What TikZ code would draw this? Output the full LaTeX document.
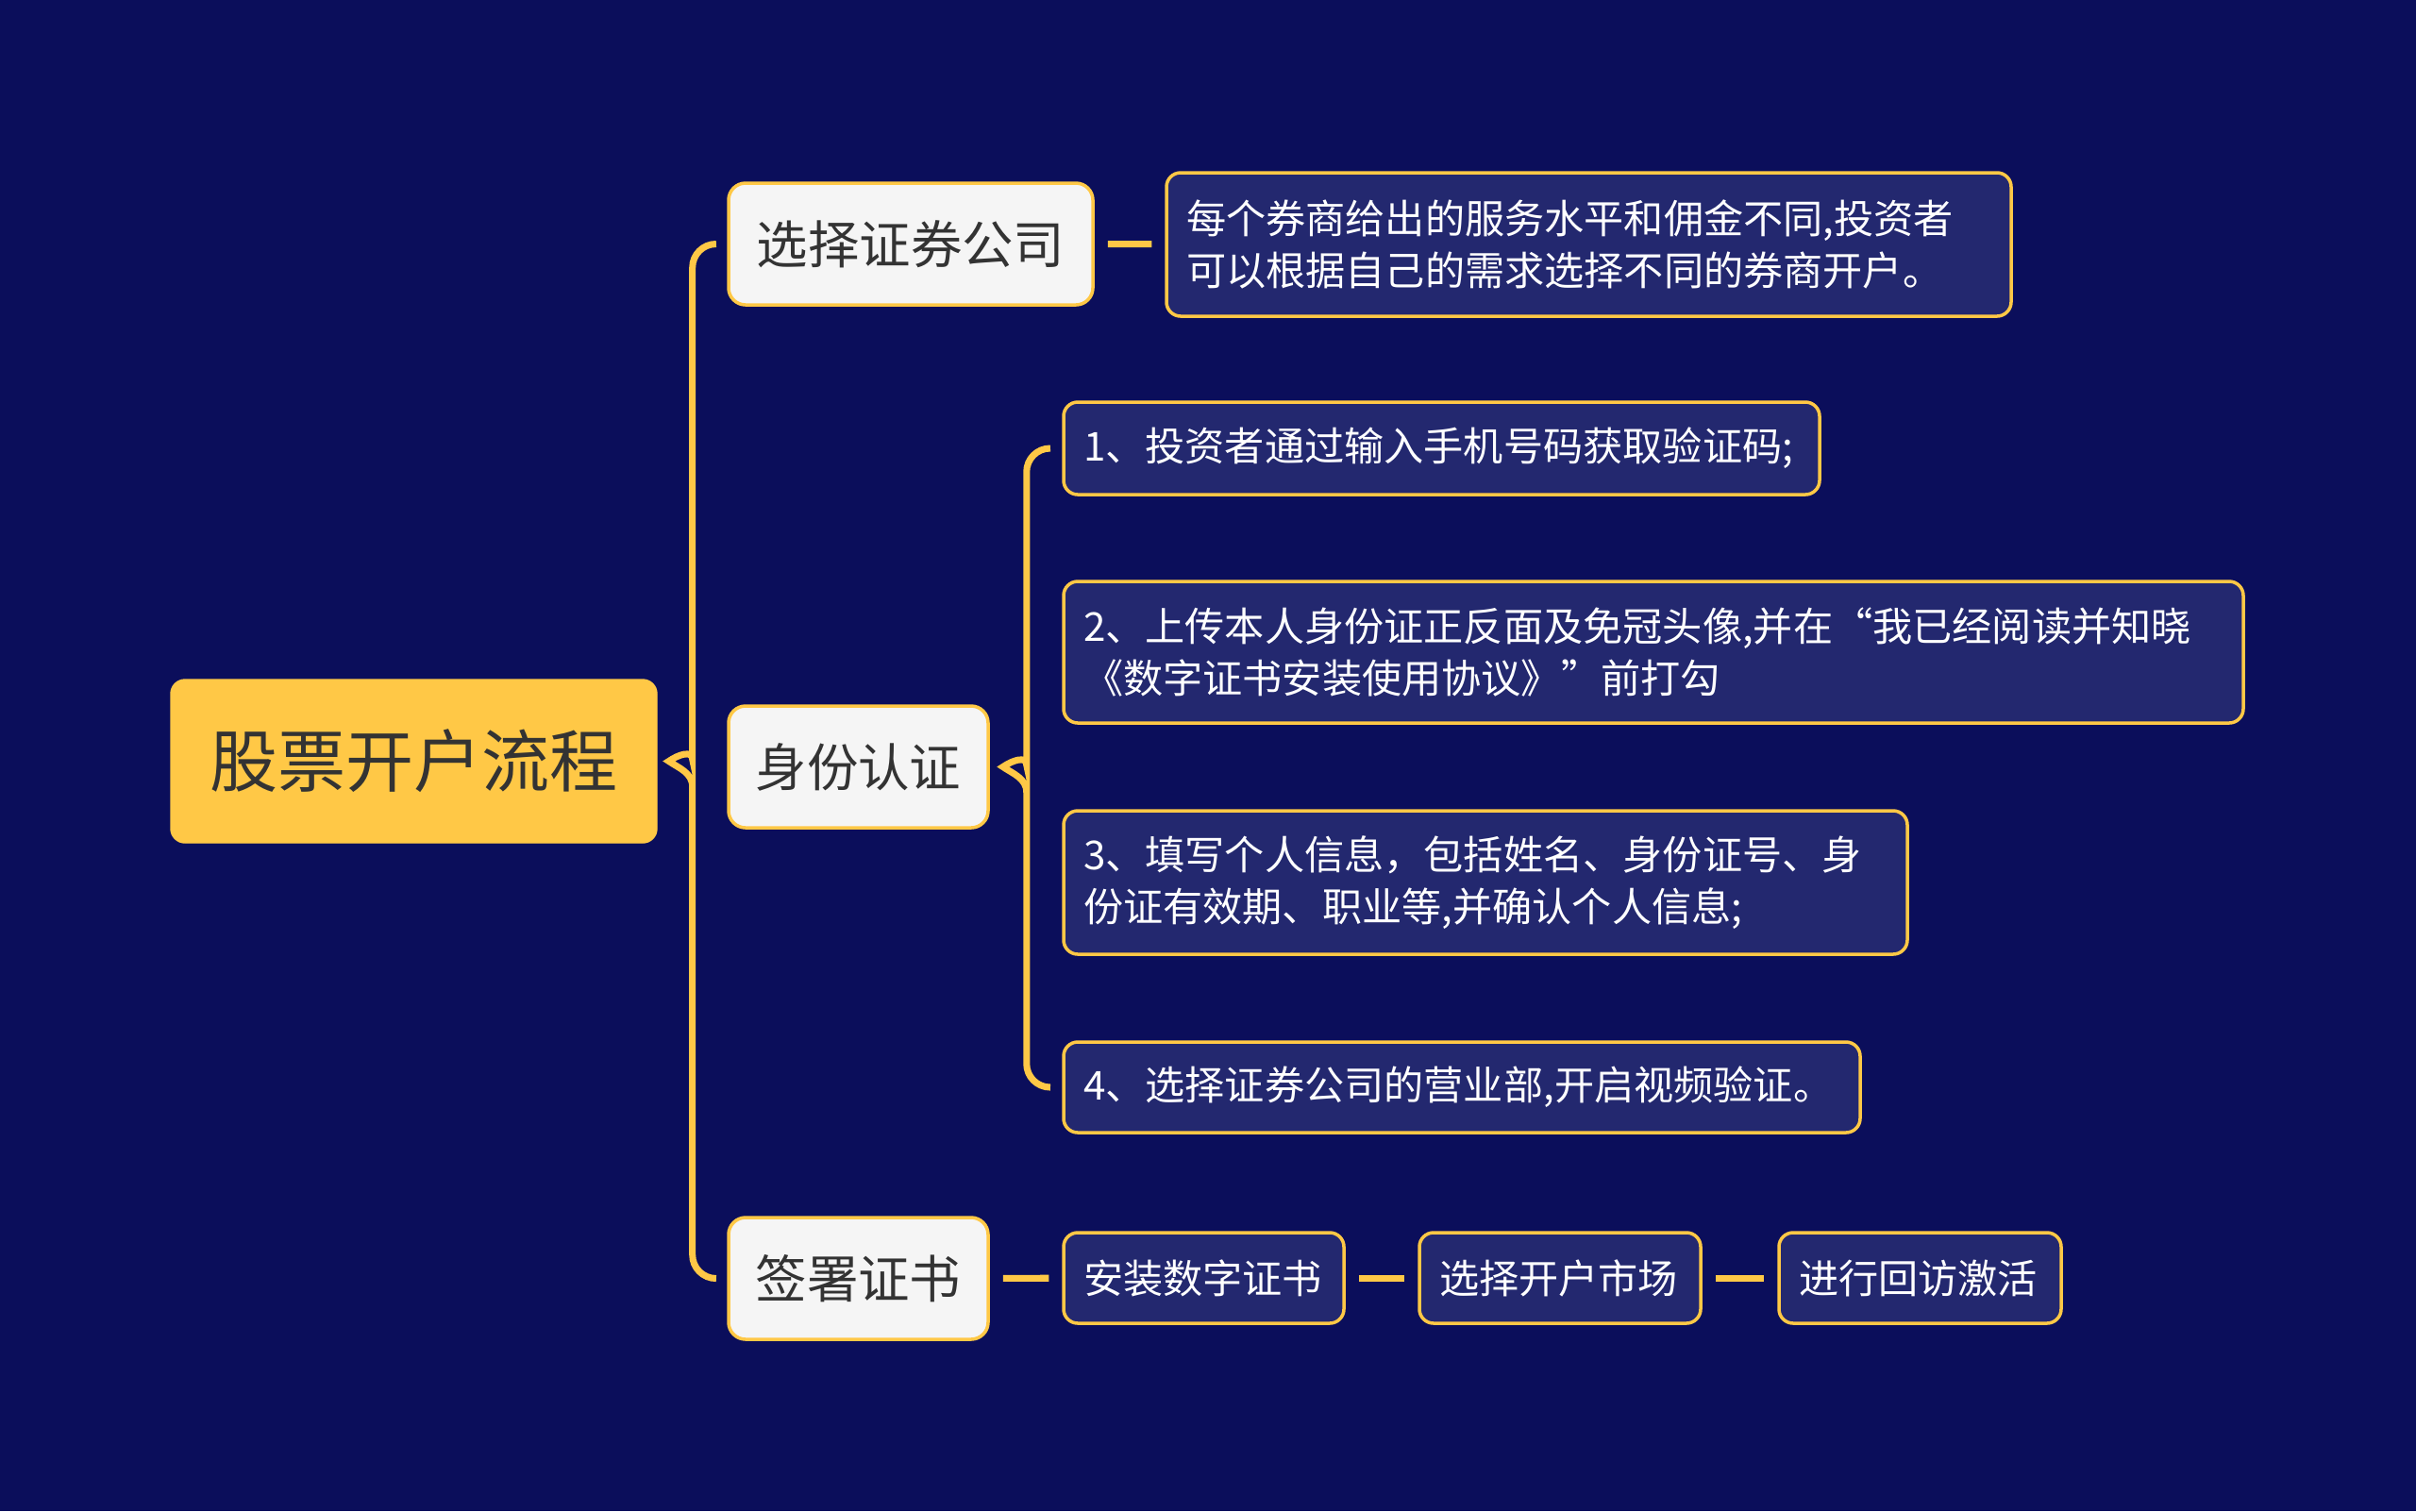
\documentclass[tikz,border=0pt]{standalone}
\usepackage{fontspec}
\setmainfont{Noto Sans CJK SC}
\usetikzlibrary{calc}
\definecolor{night}{HTML}{0B0E5B}
\definecolor{gold}{HTML}{FFC846}
\definecolor{deepBlue}{HTML}{23286F}
\definecolor{paper}{HTML}{F5F5F5}
\definecolor{ink}{HTML}{333333}

\begin{document}
\begin{tikzpicture}[x=1cm,y=-1cm,
  root/.style={fill=gold,draw=gold,rounded corners=0.15cm,text=ink,
    font=\fontsize{20.5}{24}\selectfont,minimum width=5.15cm,minimum height=1.73cm},
  topic/.style={fill=paper,draw=gold,line width=1pt,rounded corners=0.18cm,text=ink,
    font=\fontsize{15.5}{19}\selectfont,minimum height=1.29cm},
  leaf/.style={fill=deepBlue,draw=gold,line width=1pt,rounded corners=0.15cm,text=white,
    font=\fontsize{12}{15.8}\selectfont,inner xsep=0.21cm,align=left},
  link/.style={gold,line width=2pt},
  bar/.style={gold,line width=2pt,shorten <=0.14cm,shorten >=0.14cm}]
  \fill[night] (0,0) rectangle (25.6,16.01);
  % main branches
  \node[root] (stock) at (4.385,8.065) {股票开户流程};
  \node[topic,minimum width=3.86cm] (broker) at (9.65,2.585) {选择证券公司};
  \node[topic,minimum width=2.75cm] (verify) at (9.095,8.125) {身份认证};
  \node[topic,minimum width=2.75cm] (sign) at (9.095,13.545) {签署证书};
  % leaves
  \node[leaf,text width=8.53cm,minimum height=1.52cm] (note) at (16.835,2.59)
    {每个券商给出的服务水平和佣金不同,投资者\\可以根据自己的需求选择不同的券商开户。};
  \node[leaf,text width=7.59cm,minimum height=0.98cm] (stepA) at (15.275,4.75)
    {1、投资者通过输入手机号码获取验证码;};
  \node[leaf,text width=12.08cm,minimum height=1.5cm] (stepB) at (17.52,6.91)
    {2、上传本人身份证正反面及免冠头像,并在“我已经阅读并知晓\\《数字证书安装使用协议》”前打勾};
  \node[leaf,text width=8.52cm,minimum height=1.52cm] (stepC) at (15.74,9.35)
    {3、填写个人信息，包括姓名、身份证号、身\\份证有效期、职业等,并确认个人信息;};
  \node[leaf,text width=8.02cm,minimum height=0.96cm] (stepD) at (15.49,11.52)
    {4、选择证券公司的营业部,开启视频验证。};
  \node[leaf,text width=2.55cm,minimum height=0.96cm] (cert) at (12.755,13.54) {安装数字证书};
  \node[leaf,text width=2.56cm,minimum height=0.96cm] (market) at (16.53,13.54) {选择开户市场};
  \node[leaf,text width=2.57cm,minimum height=0.96cm] (revisit) at (20.345,13.54) {进行回访激活};
  % braces
  \coordinate (tipA) at ($(stock.east)+(0.12,0)$);
  \coordinate (tipB) at ($(verify.east)+(0.14,0)$);
  \draw[link] ($(broker.west)+(-0.12,0)$) [rounded corners=0.25cm] -| ($(tipA)+(0.25,-0.27)$)
    [sharp corners] .. controls +(0,0.15) and +(0.1,-0.07) .. (tipA)
    .. controls +(0.1,0.07) and +(0,-0.15) .. ($(tipA)+(0.25,0.27)$)
    [rounded corners=0.25cm] |- ($(sign.west)+(-0.12,0)$);
  \draw[link] ($(stepA.west)+(-0.13,0)$) [rounded corners=0.25cm] -| ($(tipB)+(0.25,-0.27)$)
    [sharp corners] .. controls +(0,0.15) and +(0.1,-0.07) .. (tipB)
    .. controls +(0.1,0.07) and +(0,-0.15) .. ($(tipB)+(0.25,0.27)$)
    [rounded corners=0.25cm] |- ($(stepD.west)+(-0.13,0)$);
  % short bars
  \draw[bar] (broker) -- (note);
  \draw[bar] (sign) -- (cert);
  \draw[bar] (cert) -- (market);
  \draw[bar] (market) -- (revisit);
\end{tikzpicture}
\end{document}
